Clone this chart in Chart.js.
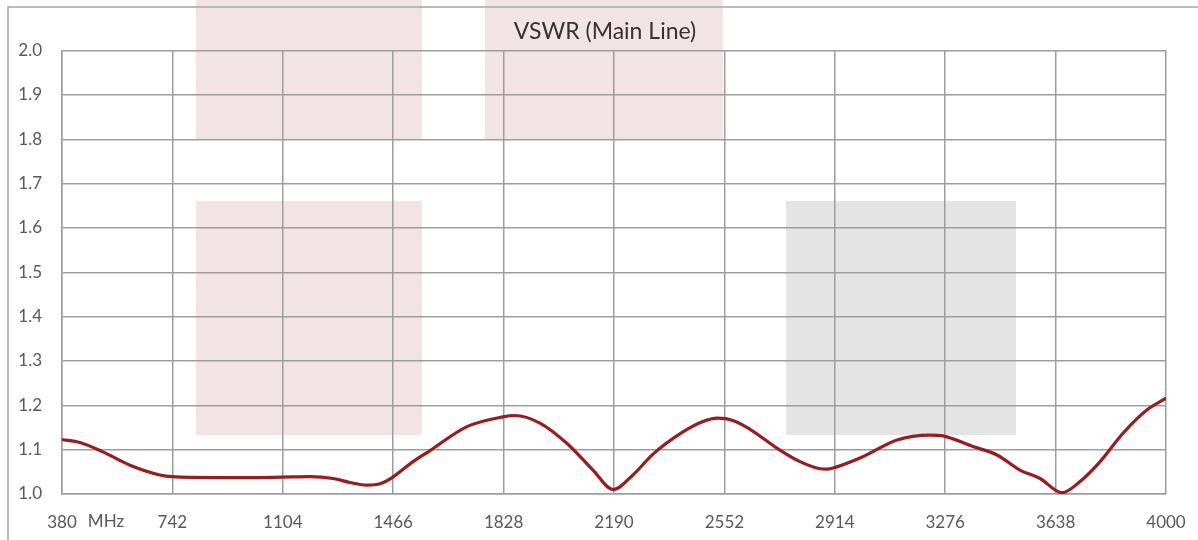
<!DOCTYPE html>
<html>
<head>
<meta charset="utf-8">
<script src="https://cdn.jsdelivr.net/npm/chart.js@4.4.1/dist/chart.umd.min.js"></script>
<style>
  html, body { margin: 0; padding: 0; background: #fff; }
  #wrap { width: 1198px; height: 540px; position: relative; }
</style>
</head>
<body>
<div id="wrap"><canvas id="chart" width="1198" height="540"></canvas></div>
<script>
// frequency (MHz) and VSWR
const freqs = [380, 439, 514, 603, 701, 741, 888, 996, 1101, 1193, 1269, 1324, 1380, 1423, 1465, 1488, 1521, 1587,
  1708, 1826, 1865, 1947, 2036, 2121, 2187, 2252, 2318, 2416, 2480, 2530, 2580, 2636, 2734, 2800, 2866, 2890, 2915,
  3006, 3118, 3226, 3269, 3367, 3446, 3521, 3587, 3659, 3718, 3784, 3859, 3938, 4000];
const vswr = [1.123, 1.116, 1.095, 1.065, 1.043, 1.039, 1.037, 1.037, 1.038, 1.039, 1.035, 1.026, 1.020, 1.023, 1.038, 1.050, 1.068, 1.098,
  1.152, 1.174, 1.177, 1.160, 1.114, 1.054, 1.010, 1.043, 1.090, 1.140, 1.163, 1.171, 1.166, 1.146, 1.099, 1.073, 1.057, 1.056, 1.060,
  1.084, 1.122, 1.133, 1.131, 1.107, 1.088, 1.054, 1.035, 1.003, 1.028, 1.073, 1.137, 1.190, 1.216];

// shaded frequency bands: [fromMHz, toMHz, lowVSWR, highVSWR]
const pinkBands = [[819, 1560, 1.8, 2.2], [1767, 2547, 1.8, 2.2], [819, 1560, 1.133, 1.661]];
const greyBands = [[2754, 3508, 1.133, 1.661]];

const xMin = 380, xMax = 4000, xStep = 362;
const yMin = 1.0, yMax = 2.0, yStep = 0.1;

const points = freqs.map((f, i) => ({ x: f, y: vswr[i] }));

const textColor = '#595959';
const gridColor = '#9d9d9d';

const bandPlugin = {
  id: 'bands',
  afterLayout(chart) {
    // the title sits a bit right of the canvas centre in the original
    if (chart.titleBlock) chart.titleBlock.left = 44;
  },
  beforeDraw(chart) {
    const { ctx, scales: { x, y } } = chart;
    ctx.save();
    const fill = (bands, color) => {
      ctx.fillStyle = color;
      bands.forEach(b => {
        const x0 = x.getPixelForValue(b[0]);
        const x1 = x.getPixelForValue(b[1]);
        const y0 = y.getPixelForValue(b[3]);
        const y1 = y.getPixelForValue(b[2]);
        ctx.fillRect(x0, y0, x1 - x0, y1 - y0);
      });
    };
    fill(pinkBands, '#f2e4e4');
    fill(greyBands, '#e4e4e4');
    ctx.restore();
  },
  afterDraw(chart) {
    const { ctx, chartArea } = chart;
    ctx.save();
    // outer frame
    ctx.strokeStyle = '#a6a6a6';
    ctx.lineWidth = 1.5;
    ctx.beginPath();
    ctx.moveTo(8, chart.height);
    ctx.lineTo(8, 7);
    ctx.lineTo(chart.width, 7);
    ctx.stroke();
    // unit label next to the first tick
    ctx.fillStyle = textColor;
    ctx.font = '17px Lato';
    ctx.textAlign = 'center';
    ctx.textBaseline = 'middle';
    ctx.fillText('MHz', 106, chartArea.bottom + 28);
    ctx.restore();
  }
};

new Chart(document.getElementById('chart'), {
  type: 'line',
  data: {
    datasets: [{
      data: points,
      borderColor: '#9b1b1f',
      borderWidth: 3.2,
      pointRadius: 0,
      cubicInterpolationMode: 'monotone',
      fill: false
    }]
  },
  options: {
    responsive: false,
    animation: false,
    devicePixelRatio: 1,
    layout: { padding: { left: 0, right: 32, top: 0, bottom: 0 } },
    plugins: {
      legend: { display: false },
      tooltip: { enabled: false },
      title: {
        display: true,
        text: 'VSWR (Main Line)',
        color: '#333333',
        font: { family: 'Lato', size: 23, weight: 'normal' },
        padding: { top: 18, bottom: 5 }
      }
    },
    scales: {
      x: {
        type: 'linear',
        min: xMin,
        max: xMax,
        afterBuildTicks(scale) {
          const t = [];
          for (let v = xMin; v <= xMax; v += xStep) t.push({ value: v });
          scale.ticks = t;
        },
        afterFit(scale) {
          scale.height = 46;
          scale.paddingLeft = 0;
          scale.paddingRight = 0;
        },
        grid: { color: gridColor, lineWidth: 1.5, drawTicks: false },
        border: { color: gridColor, width: 1.5 },
        ticks: {
          color: textColor,
          font: { family: 'Lato', size: 17 },
          padding: 18,
          maxRotation: 0,
          autoSkip: false,
          callback: v => String(v)
        }
      },
      y: {
        min: yMin,
        max: yMax,
        afterFit(scale) { scale.width = 62; },
        grid: { color: gridColor, lineWidth: 1.5, drawTicks: false },
        border: { color: gridColor, width: 1.5 },
        ticks: {
          stepSize: yStep,
          color: textColor,
          font: { family: 'Lato', size: 17 },
          padding: 20,
          callback: v => v.toFixed(1)
        }
      }
    }
  },
  plugins: [bandPlugin]
});
</script>
</body>
</html>
